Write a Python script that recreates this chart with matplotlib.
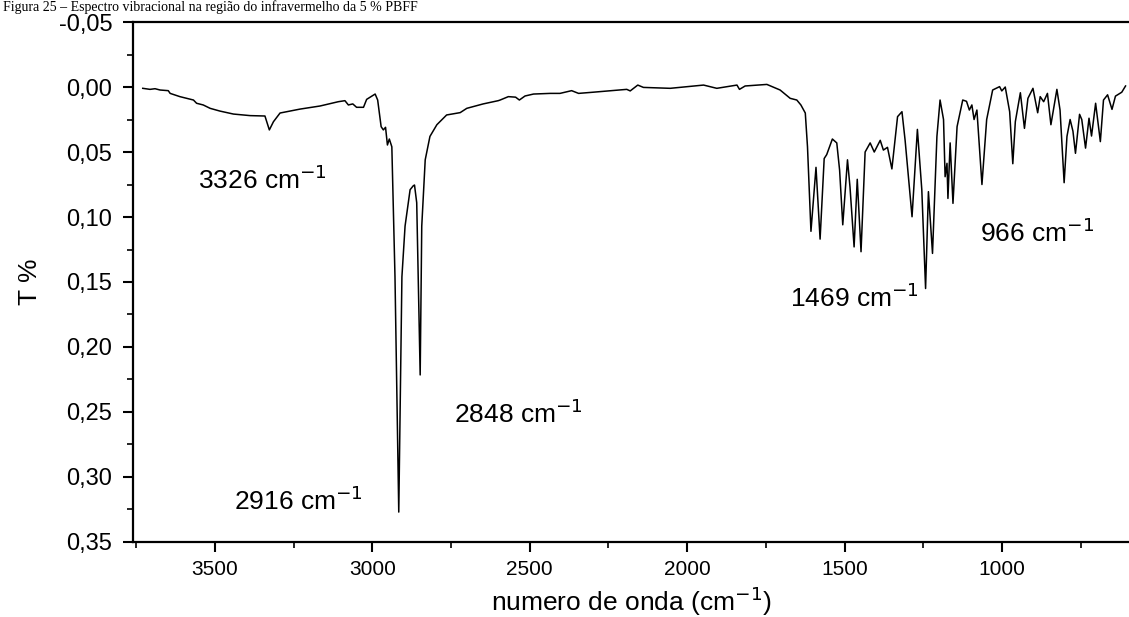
import numpy as np
import matplotlib.pyplot as plt
from matplotlib.ticker import MultipleLocator, FuncFormatter

# FTIR spectrum (wavenumber in cm-1, T %)
wavenumber = [
    3729, 3706, 3690, 3674, 3648, 3642, 3611, 3589, 3568, 3558, 3537, 3515,
    3484, 3441, 3388, 3341, 3327, 3314, 3293, 3230, 3166, 3108, 3087, 3076,
    3062, 3050, 3028, 3018, 2991, 2983, 2972, 2965, 2958, 2952, 2946, 2938,
    2928, 2916, 2906, 2896, 2880, 2870, 2866, 2859, 2848, 2843, 2832, 2817,
    2795, 2764, 2721, 2700, 2648, 2600, 2594, 2568, 2545, 2533, 2515, 2488,
    2435, 2404, 2367, 2345, 2299, 2192, 2181, 2157, 2139, 2054, 1980, 1948,
    1906, 1842, 1834, 1816, 1747, 1705, 1673, 1652, 1639, 1625, 1618, 1607,
    1591, 1578, 1565, 1557, 1539, 1525, 1516, 1506, 1491, 1483, 1470, 1460,
    1448, 1435, 1419, 1406, 1387, 1377, 1364, 1350, 1332, 1318, 1308, 1286,
    1269, 1255, 1243, 1234, 1221, 1207, 1197, 1186, 1181, 1175, 1172, 1165,
    1156, 1143, 1125, 1113, 1104, 1096, 1089, 1080, 1064, 1049, 1030, 1008,
    1001, 990, 976, 966, 958, 942, 929, 918, 902, 887, 879, 868,
    856, 845, 826, 816, 803, 794, 784, 775, 767, 754, 747, 735,
    724, 716, 703, 688, 678, 665, 651, 640, 620, 608,
]
transmittance = [
    0.001, 0.0018, 0.0013, 0.0023, 0.0028, 0.0049, 0.0074, 0.0087, 0.010, 0.0125, 0.0138, 0.0164,
    0.0185, 0.0208, 0.022, 0.0223, 0.033, 0.0267, 0.020, 0.017, 0.0146, 0.0113, 0.0105, 0.0138,
    0.013, 0.0156, 0.0156, 0.0095, 0.0054, 0.010, 0.0305, 0.033, 0.031, 0.0446, 0.040, 0.046,
    0.146, 0.327, 0.146, 0.107, 0.079, 0.076, 0.0754, 0.089, 0.2215, 0.107, 0.056, 0.038,
    0.029, 0.0215, 0.0197, 0.0164, 0.013, 0.0105, 0.010, 0.0074, 0.0078, 0.010, 0.0069, 0.0054,
    0.0049, 0.0049, 0.0028, 0.0049, 0.004, 0.0018, 0.003, -0.0015, 0.0003, 0.001, -0.0008, -0.0015,
    0.001, -0.0015, 0.0018, -0.0008, -0.002, 0.0023, 0.0087, 0.010, 0.0138, 0.020, 0.046, 0.111,
    0.0618, 0.117, 0.055, 0.052, 0.040, 0.043, 0.064, 0.106, 0.056, 0.077, 0.123, 0.071,
    0.1267, 0.050, 0.043, 0.050, 0.041, 0.0485, 0.0464, 0.063, 0.0228, 0.019, 0.041, 0.0998,
    0.0326, 0.079, 0.155, 0.0805, 0.128, 0.038, 0.010, 0.025, 0.069, 0.0587, 0.0857, 0.043,
    0.0895, 0.0305, 0.010, 0.011, 0.0177, 0.0138, 0.025, 0.0177, 0.075, 0.025, 0.0023, -0.0003,
    0.003, 0.000, 0.019, 0.059, 0.0267, 0.0044, 0.0318, 0.0087, 0.001, 0.0198, 0.0074, 0.0113,
    0.0049, 0.029, 0.0018, 0.0177, 0.0736, 0.038, 0.025, 0.034, 0.051, 0.021, 0.025, 0.047,
    0.024, 0.0377, 0.0125, 0.042, 0.010, 0.006, 0.0172, 0.007, 0.004, -0.0008,
]

# annotated bands
peak_names = ["3326", "2916", "2848", "1469", "966"]
peak_text_x = [3350, 3236, 2537, 1470, 888]
peak_text_y = [0.0715, 0.318, 0.251, 0.162, 0.112]

title = "Figura 25 \u2013 Espectro vibracional na região do infravermelho da 5 % PBFF"

plt.rcParams['font.family'] = ['Liberation Sans', 'DejaVu Sans']

fig = plt.figure(figsize=(11.29, 6.17), dpi=100)
ax = fig.add_axes([0.1178, 0.1216, 0.8822, 0.8427])

ax.plot(wavenumber, transmittance, color='black', lw=1.1)

ax.set_xlim(3760, 597)
ax.set_ylim(0.35, -0.05)

ax.xaxis.set_major_locator(MultipleLocator(500))
ax.xaxis.set_minor_locator(MultipleLocator(250))
ax.yaxis.set_major_locator(MultipleLocator(0.05))
ax.yaxis.set_minor_locator(MultipleLocator(0.025))
ax.yaxis.set_major_formatter(FuncFormatter(lambda v, p: f"{v:.2f}".replace('.', ',').replace('-0,00', '0,00')))

ax.tick_params(which='major', direction='out', length=7, width=1.5, labelsize=17, pad=8)
ax.tick_params(which='minor', direction='out', length=4, width=1.2)
ax.tick_params(axis='x', labelsize=15, pad=6)

for side in ['left', 'bottom', 'top']:
    ax.spines[side].set_linewidth(1.6)
ax.spines['right'].set_visible(False)

ax.set_xlabel("numero de onda (cm$^{-1}$)", fontsize=19, labelpad=4)
ax.set_ylabel("T %", fontsize=19, labelpad=12)

for name, tx, ty in zip(peak_names, peak_text_x, peak_text_y):
    ax.text(tx, ty, name + " cm$^{-1}$", fontsize=19, ha='center', va='center')

fig.text(0.003, 1.0, title, family='Liberation Serif', fontsize=10, va='top')

fig.savefig("out.png", dpi=100)
